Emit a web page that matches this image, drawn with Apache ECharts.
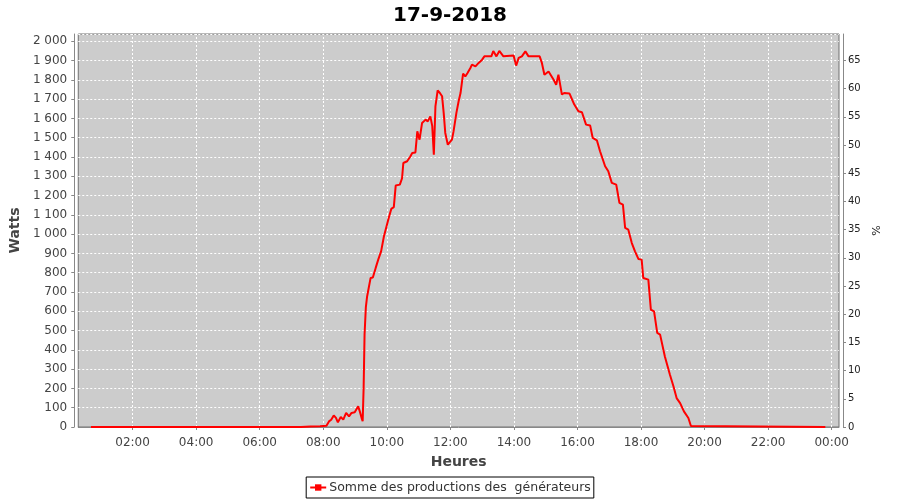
<!DOCTYPE html>
<html>
<head>
<meta charset="utf-8">
<script src="https://cdn.jsdelivr.net/npm/echarts@6/dist/echarts.min.js"></script>
<style>
html,body{margin:0;padding:0;background:#fff;}
#chart{width:900px;height:500px;}
</style>
</head>
<body>
<div id="chart"></div>
<script>
// Time of day in hours, and total production in watts
var hours = [0.69, 7.30, 7.60, 7.90, 8.10, 8.18, 8.25, 8.33, 8.40, 8.46, 8.55, 8.63, 8.72, 8.81, 8.89, 8.99,
  9.10, 9.15, 9.21, 9.24, 9.27, 9.30, 9.34, 9.38, 9.43, 9.49, 9.56, 9.65, 9.73, 9.82, 9.91, 9.99,
  10.06, 10.14, 10.22, 10.28, 10.41, 10.48, 10.52, 10.64, 10.74, 10.80, 10.90, 10.96, 11.03, 11.11,
  11.22, 11.29, 11.37, 11.43, 11.48, 11.53, 11.60, 11.67, 11.74, 11.79, 11.84, 11.92, 11.98, 12.05,
  12.10, 12.19, 12.26, 12.32, 12.40, 12.47, 12.54, 12.63, 12.68, 12.79, 12.89, 13.00, 13.07, 13.29,
  13.35, 13.45, 13.54, 13.67, 13.99, 14.07, 14.15, 14.25, 14.36, 14.46, 14.81, 14.88, 14.96, 15.09,
  15.25, 15.33, 15.40, 15.51, 15.58, 15.75, 15.90, 16.03, 16.14, 16.27, 16.40, 16.48, 16.61, 16.71,
  16.87, 16.97, 17.08, 17.22, 17.32, 17.43, 17.50, 17.60, 17.71, 17.81, 17.92, 18.02, 18.07, 18.23,
  18.31, 18.41, 18.51, 18.60, 18.75, 18.91, 19.02, 19.12, 19.23, 19.35, 19.49, 19.57, 23.80];
var watts = [0, 0, 3, 4, 7, 29, 38, 60, 47, 24, 52, 38, 73, 55, 73, 76,
  107, 81, 45, 30, 200, 480, 620, 677, 680, 773, 775, 825, 868, 911, 989, 1040,
  1084, 1131, 1140, 1252, 1257, 1290, 1369, 1378, 1403, 1421, 1424, 1533, 1490, 1577,
  1594, 1585, 1611, 1560, 1412, 1663, 1746, 1732, 1715, 1629, 1525, 1464, 1459, 1490,
  1533, 1629, 1689, 1732, 1833, 1818, 1836, 1862, 1879, 1870, 1888, 1905, 1922, 1922,
  1950, 1922, 1950, 1922, 1926, 1874, 1914, 1922, 1948, 1922, 1922, 1888, 1827, 1844,
  1801, 1775, 1827, 1724, 1732, 1729, 1672, 1637, 1632, 1568, 1563, 1499, 1487, 1430,
  1352, 1326, 1266, 1257, 1162, 1153, 1032, 1023, 954, 911, 871, 868, 773, 764,
  608, 600, 488, 479, 366, 271, 211, 150, 124, 81, 47, 5, 0];
var xTicks = [2, 4, 6, 8, 10, 12, 14, 16, 18, 20, 22, 24];
var titleText = '17-9-2018';
var seriesName = 'Somme des productions des  générateurs';

var FONT = 'DejaVu Sans';
var chart = echarts.init(document.getElementById('chart'), null, {renderer: 'canvas'});
var data = hours.map(function (h, i) { return [h, watts[i]]; });
var gridDash = {color: '#ffffff', type: [2, 2], width: 1};

chart.setOption({
  animation: false,
  backgroundColor: '#ffffff',
  title: {
    text: titleText, left: 'center', top: 1,
    textStyle: {fontFamily: FONT, fontSize: 20, fontWeight: 'bold', color: '#000'}
  },
  legend: {
    data: [{name: seriesName}],
    left: 'center', top: 477,
    borderColor: '#000', borderWidth: 1, borderRadius: 0,
    padding: [4, 3, 4, 3],
    itemWidth: 16, itemHeight: 8, itemGap: 4,
    textStyle: {fontFamily: FONT, fontSize: 12.5, color: '#333', padding: [0, 0, 0, -2]}
  },
  grid: {
    left: 77, right: 61, top: 34, bottom: 73,
    show: true, backgroundColor: '#cccccc', borderColor: '#707070', borderWidth: 1
  },
  xAxis: {
    type: 'value', min: 0.29, max: 24.23, offset: 4,
    name: 'Heures', nameLocation: 'middle', nameGap: 24,
    nameTextStyle: {fontFamily: FONT, fontSize: 14, fontWeight: 'bold', color: '#444'},
    axisLine: {show: true, lineStyle: {color: '#888', width: 1}},
    axisTick: {show: true, length: 3, customValues: xTicks, lineStyle: {color: '#888'}},
    axisLabel: {
      customValues: xTicks, margin: 6,
      fontFamily: FONT, fontSize: 12, color: '#444',
      formatter: function (v) { var h = Math.round(v) % 24; return (h < 10 ? '0' : '') + h + ':00'; }
    },
    splitLine: {show: false},
    splitArea: {show: false},
    minorSplitLine: {show: false}
  },
  yAxis: [{
    type: 'value', min: 0, max: 2038, interval: 100, offset: 4, position: 'left',
    name: 'Watts', nameLocation: 'middle', nameGap: 46,
    nameTextStyle: {fontFamily: FONT, fontSize: 14, fontWeight: 'bold', color: '#444'},
    axisLine: {show: true, lineStyle: {color: '#888', width: 1}},
    axisTick: {show: true, length: 3, lineStyle: {color: '#888'}},
    axisLabel: {
      margin: 7, fontFamily: FONT, fontSize: 12, color: '#444', showMaxLabel: false,
      formatter: function (v) {
        if (v > 2000) return '';
        if (v >= 1000) { var r = String(v % 1000); while (r.length < 3) r = '0' + r; return Math.floor(v / 1000) + ' ' + r; }
        return String(v);
      }
    },
    splitLine: {show: true, lineStyle: gridDash},
    splitArea: {show: false}
  }, {
    type: 'value', min: 0, max: 69.7, interval: 5, offset: 4, position: 'right',
    name: '%', nameLocation: 'middle', nameGap: 20, nameRotate: 90,
    nameTextStyle: {fontFamily: FONT, fontSize: 11, color: '#222'},
    axisLine: {show: true, lineStyle: {color: '#888', width: 1}},
    axisTick: {show: true, length: 3, lineStyle: {color: '#888'}},
    axisLabel: {margin: 5, fontFamily: FONT, fontSize: 10, color: '#222', showMaxLabel: false,
      formatter: function (v) { return v > 65 ? '' : String(v); }},
    splitLine: {show: false},
    splitArea: {show: false}
  }],
  series: [{
    name: 'grid-x', type: 'line', data: [], z: 1, silent: true,
    markLine: {
      silent: true, z: 1, symbol: ['none', 'none'], label: {show: false},
      lineStyle: gridDash, emphasis: {disabled: true},
      data: xTicks.map(function (v) { return {xAxis: v}; })
    }
  }, {
    name: seriesName, type: 'line', data: data, yAxisIndex: 0, z: 3,
    showSymbol: false, symbol: 'rect', symbolSize: 4,
    lineStyle: {color: '#ff0000', width: 2},
    itemStyle: {color: '#ff0000'}
  }]
});
</script>
</body>
</html>
